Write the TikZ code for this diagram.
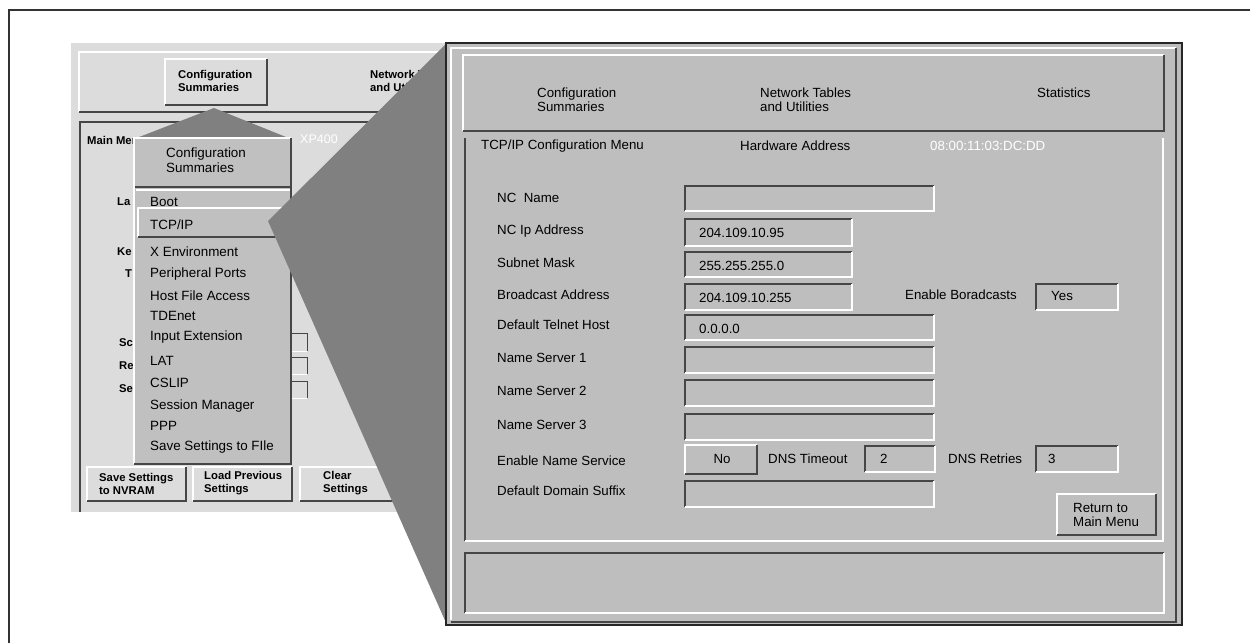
\documentclass[tikz,border=0pt]{standalone}
\usepackage{fontspec}
\setmainfont{Liberation Sans}
\definecolor{lpbg}{RGB}{220,220,220}
\definecolor{rpbg}{RGB}{190,190,190}
\definecolor{pubg}{RGB}{192,192,192}
\definecolor{wedgec}{RGB}{128,128,128}
\definecolor{shade}{RGB}{70,70,70}
\tikzset{
  dkline/.style={draw=shade, line width=1.6pt},
  ltline/.style={draw=white, line width=1.6pt},
  rt/.style={font=\fontsize{13.3}{14}\selectfont, inner sep=0pt, anchor=west, align=left},
  mt/.style={font=\fontsize{13.4}{15}\selectfont, inner sep=0pt, anchor=west, align=left},
  lt/.style={font=\bfseries\fontsize{11.3}{13}\selectfont, inner sep=0pt, anchor=west, align=left},
  wt/.style={font=\fontsize{12.5}{14}\selectfont, inner sep=0pt, anchor=west, text=white},
  frame/.style={draw=black!80, line width=1.5pt},
}
\newcommand\sunkbox[4]{\draw[dkline] (#1,#4)--(#1,#2)--(#3,#2); \draw[ltline] (#3,#2)--(#3,#4)--(#1,#4);}
\newcommand\upbox[4]{\draw[ltline] (#1,#4)--(#1,#2)--(#3,#2); \draw[dkline] (#3,#2)--(#3,#4)--(#1,#4);}
\begin{document}
\begin{tikzpicture}[x=1pt,y=-1pt]
\useasboundingbox (0,0) rectangle (1250,643);
\fill[white] (0,0) rectangle (1250,643);
\draw[frame] (9,643) -- (9,10) -- (1250,10);

% ---------------- left (small) screen ----------------
\fill[lpbg] (71,43) rectangle (446,512);
\upbox{79}{52}{446}{112}
\upbox{165}{59}{267}{105}
\node[lt] (lcs) at (178,80.5) {Configuration\\Summaries};
\node[lt] (lnet) at (370,80.5) {Network Tables\\and Utilities};
\draw[dkline] (80,512) -- (80,122) -- (446,122);
\node[lt] (lmain) at (87,140) {Main Menu};
\node[wt] (xp) at (300,139) {XP400};
\node[lt] (lla) at (117,202) {La};
\node[lt] (lke) at (117,252) {Ke};
\node[lt] (lty) at (125,274) {T};
\node[lt] (lsc) at (119,343) {Sc};
\node[lt] (lre) at (119,366) {Re};
\node[lt] (lse) at (119,389) {Se};
\foreach \ya/\yb in {333/351,357/374,381/398}{
  \draw[dkline, line width=1pt] (250,\yb)--(250,\ya)--(307,\ya)--(307,\yb);
  \draw[ltline, line width=1pt] (307,\yb)--(250,\yb);
}
\upbox{87}{467}{186}{501}
\upbox{193}{467}{292}{501}
\upbox{300}{467}{420}{501}
\node[lt] (bsave) at (99,483.5) {Save Settings\\to NVRAM};
\node[lt] (bload) at (204,483.5) {Load Previous\\Settings};
\node[lt] (bclear) at (323,483.5) {Clear\\Settings};

% callout triangle
\fill[wedgec] (214,108) -- (134,139) -- (291,139) -- cycle;

% popup menu
\fill[pubg] (134,138) rectangle (291,464);
\upbox{134}{138}{291}{464}
\draw[dkline] (135,187) -- (290,187);
\draw[ltline] (136,190) -- (290,190);
\node[mt] (phead) at (166,160.5) {Configuration\\Summaries};
\draw[ltline] (138,237) -- (138,208) -- (300,208);
\draw[dkline] (138,237) -- (300,237);
\node[mt] (m1) at (150,202) {Boot};
\node[mt] (m2) at (150,225) {TCP/IP};
\node[mt] (m3) at (150,252) {X Environment};
\node[mt] (m4) at (150,274) {Peripheral Ports};
\node[mt] (m5) at (150,296) {Host File Access};
\node[mt] (m6) at (150,316) {TDEnet};
\node[mt] (m7) at (150,337) {Input Extension};
\node[mt] (m8) at (150,361) {LAT};
\node[mt] (m9) at (150,383) {CSLIP};
\node[mt] (m10) at (150,406) {Session Manager};
\node[mt] (m11) at (150,426) {PPP};
\node[mt] (m12) at (150,447) {Save Settings to FIle};

% zoom wedge
\fill[wedgec] (268,221) -- (447,43) -- (447,625) -- cycle;

% ---------------- right (enlarged) screen ----------------
\fill[rpbg] (446,43) rectangle (1182,625);
\draw[black!85, line width=1.5pt] (446,43) rectangle (1182,625);
\draw[ltline] (451,620) -- (451,48) -- (1176,48);
\draw[dkline] (1176,48) -- (1176,622) -- (451,622);
\upbox{463}{55}{1164}{131}
\node[rt] (tcs) at (537,100) {Configuration\\Summaries};
\node[rt] (tnt) at (760,100) {Network Tables\\and Utilities};
\node[rt] (tst) at (1037,93) {Statistics};
\draw[dkline] (465,541) -- (465,138);
\draw[ltline] (465,541) -- (1163,541) -- (1163,138);
\node[rt] (hmenu) at (481,146) {TCP/IP Configuration Menu};
\node[rt] (hhw) at (740,146) {Hardware Address};
\node[wt, font=\fontsize{13.3}{14}\selectfont] (hmac) at (930,146) {08:00:11:03:DC:DD};

% fields
\sunkbox{685}{186}{934}{211}
\node[rt] (lnc) at (497,198) {NC\ \ Name};
\sunkbox{685}{219}{852}{246}
\node[rt] (lip) at (497,231) {NC Ip Address};
\node[rt] (vip) at (699,233) {204.109.10.95};
\sunkbox{685}{252}{852}{277}
\node[rt] (lsm) at (497,263) {Subnet Mask};
\node[rt] (vsm) at (699,266) {255.255.255.0};
\sunkbox{685}{284}{852}{310}
\node[rt] (lbc) at (497,295) {Broadcast Address};
\node[rt] (vbc) at (699,298) {204.109.10.255};
\node[rt] (leb) at (905,295) {Enable Boradcasts};
\sunkbox{1036}{284}{1118}{310}
\node[rt] (veb) at (1051,296) {Yes};
\sunkbox{685}{315}{934}{340}
\node[rt] (ltn) at (497,325) {Default Telnet Host};
\node[rt] (vtn) at (699,329) {0.0.0.0};
\sunkbox{685}{347}{934}{373}
\node[rt] (lns1) at (497,358) {Name Server 1};
\sunkbox{685}{380}{934}{406}
\node[rt] (lns2) at (497,391) {Name Server 2};
\sunkbox{685}{414}{934}{440}
\node[rt] (lns3) at (497,425) {Name Server 3};
\node[rt] (lens) at (497,461) {Enable Name Service};
\upbox{685}{445}{757}{474}
\node[rt, anchor=center] (vno) at (722,459) {No};
\node[rt] (ldt) at (768,459) {DNS Timeout};
\sunkbox{865}{446}{935}{472}
\node[rt] (vdt) at (880,459) {2};
\node[rt] (ldr) at (948,459) {DNS Retries};
\sunkbox{1036}{446}{1118}{472}
\node[rt] (vdr) at (1048,459) {3};
\sunkbox{685}{481}{934}{507}
\node[rt] (lds) at (497,491) {Default Domain Suffix};
\upbox{1057}{494}{1156}{535}
\node[rt] (bret) at (1073,514.5) {Return to\\Main Menu};

% status box
\sunkbox{465}{553}{1164}{613}
\end{tikzpicture}
\end{document}
